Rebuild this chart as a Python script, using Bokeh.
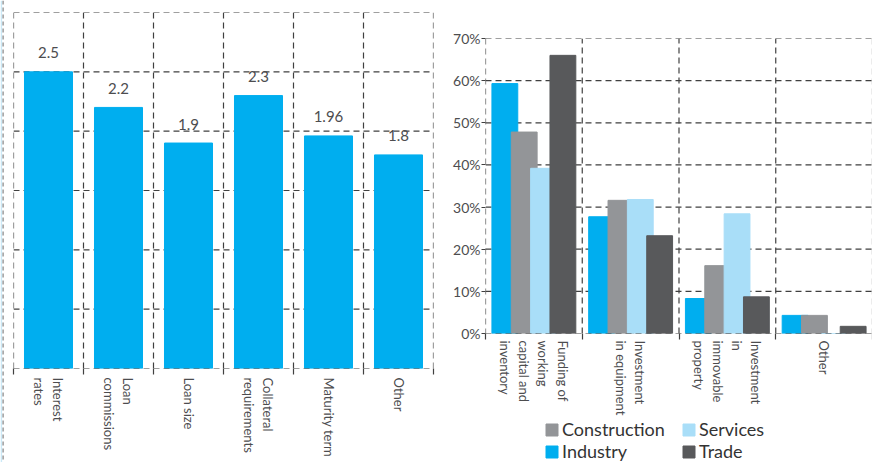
import math
from bokeh.plotting import figure
from bokeh.layouts import row, column
from bokeh.models import (ColumnDataSource, FixedTicker, Legend, LegendItem,
                          LabelSet, Span, BoxAnnotation)
from bokeh.core.properties import value
from bokeh.embed import file_html
from bokeh.resources import INLINE

# ---------------- data ----------------
left_categories = ["Interest\nrates", "Loan\ncommissions", "Loan size",
                   "Collateral\nrequirements", "Maturity term", "Other"]
left_values = [2.5, 2.2, 1.9, 2.3, 1.96, 1.8]
left_value_labels = ["2.5", "2.2", "1.9", "2.3", "1.96", "1.8"]
left_grid_values = [0, 0.5, 1, 1.5, 2, 2.5, 3]

right_categories = ["Funding of\nworking\ncapital and\ninventory",
                    "Investment\nin equipment",
                    "Investment\nin\nimmovable\nproperty",
                    "Other"]
industry = [59.3, 27.7, 8.3, 4.3]
construction = [47.8, 31.6, 16.1, 4.3]
services = [39.2, 31.8, 28.4, 0.0]
trade = [66.0, 23.2, 8.7, 1.7]
y_ticks_pct = [0, 10, 20, 30, 40, 50, 60, 70]

FONT = "Lato"
GRID_COLOR = "#404040"
DASH = "6 4"
BLUE = "#00AEEF"
GRAY = "#939598"
LIGHT = "#A9DEF8"
DARK = "#58595B"
TEXT = "#4d4d4f"


def dashed_grid(p, xs, ys):
    """Inner grid lines as glyph segments (drawn before bars), edges as spans."""
    p.xgrid.visible = False
    p.ygrid.visible = False
    x_in = xs[1:-1]
    y_in = ys[1:-1]
    p.segment(x0=x_in, x1=x_in, y0=[ys[0]] * len(x_in), y1=[ys[-1]] * len(x_in),
              line_color=GRID_COLOR, line_dash=DASH, line_width=1.2)
    p.segment(x0=[xs[0]] * len(y_in), x1=[xs[-1]] * len(y_in), y0=y_in, y1=y_in,
              line_color=GRID_COLOR, line_dash=DASH, line_width=1.2)
    for xv in (xs[0], xs[-1]):
        p.add_layout(Span(location=xv, dimension="height", line_color=GRID_COLOR,
                          line_dash=DASH, line_width=1.2, level="underlay"))
    p.add_layout(Span(location=ys[-1], dimension="width", line_color=GRID_COLOR,
                      line_dash=DASH, line_width=1.2, level="underlay"))
    # baseline drawn on top of the bars
    p.add_layout(Span(location=ys[0], dimension="width", line_color=GRID_COLOR,
                      line_dash=DASH, line_width=1.2))


def style_xaxis(p, centers, bounds, labels, size, standoff):
    p.xaxis.ticker = FixedTicker(ticks=centers, minor_ticks=bounds)
    p.xaxis.major_label_overrides = {x: c for x, c in zip(centers, labels)}
    p.xaxis.major_label_orientation = -math.pi / 2
    p.xaxis.major_label_text_font = FONT
    p.xaxis.major_label_text_font_size = size
    p.xaxis.major_label_text_color = TEXT
    p.xaxis.axis_line_color = None
    p.xaxis.major_tick_line_color = None
    p.xaxis.minor_tick_line_color = GRID_COLOR
    p.xaxis.minor_tick_line_width = 1.2
    p.xaxis.minor_tick_out = 6
    p.xaxis.minor_tick_in = 0
    p.xaxis.major_label_standoff = standoff


# ---------------- page edge strip ----------------
p0 = figure(width=5, height=462, output_backend="svg", toolbar_location=None,
            min_border=0, x_range=(0, 5), y_range=(0, 1))
p0.outline_line_color = None
p0.axis.visible = False
p0.grid.visible = False
p0.add_layout(BoxAnnotation(left=0, right=1.6, fill_color="#cbe9f7",
                            fill_alpha=1, line_color=None))
p0.add_layout(Span(location=2.6, dimension="height", line_color="#8c8c8c",
                   line_dash="4 3", line_width=1.3))

# ---------------- left chart ----------------
n_left = len(left_categories)
lx = [i + 0.5 for i in range(n_left)]
lbounds = list(range(n_left + 1))
lsrc = ColumnDataSource(dict(x=lx, top=left_values, label=left_value_labels))

p1 = figure(width=435, height=462, x_range=(0, n_left),
            y_range=(left_grid_values[0], left_grid_values[-1]),
            output_backend="svg", toolbar_location=None,
            min_border_left=8, min_border_right=7, min_border_top=12,
            min_border_bottom=94)
p1.outline_line_color = None
dashed_grid(p1, lbounds, left_grid_values)
p1.vbar(x="x", top="top", width=0.686, source=lsrc, color=BLUE)
p1.add_layout(LabelSet(x="x", y="top", text="label", source=lsrc,
                       text_align="center", text_baseline="middle",
                       y_offset=19, text_font=value(FONT), text_font_size="15px",
                       text_color=TEXT))
style_xaxis(p1, lx, lbounds, left_categories, "13px", 3)
p1.yaxis.visible = False

# ---------------- right chart ----------------
n_right = len(right_categories)
rx = [i + 0.5 for i in range(n_right)]
rbounds = list(range(n_right + 1))
series = [("Industry", industry, BLUE, -0.3),
          ("Construction", construction, GRAY, -0.1),
          ("Services", services, LIGHT, 0.1),
          ("Trade", trade, DARK, 0.3)]

p2 = figure(width=432, height=418, x_range=(0, n_right),
            y_range=(y_ticks_pct[0], y_ticks_pct[-1]),
            output_backend="svg", toolbar_location=None,
            min_border_left=45, min_border_right=0, min_border_top=38,
            min_border_bottom=84)
p2.outline_line_color = None
dashed_grid(p2, rbounds, y_ticks_pct)
for name, vals, col, off in series:
    src = ColumnDataSource(dict(x=[x + off for x in rx], top=vals))
    p2.vbar(x="x", top="top", width=0.267, source=src, color=col)
style_xaxis(p2, rx, rbounds, right_categories, "13px", 1)

p2.yaxis.ticker = FixedTicker(ticks=y_ticks_pct)
p2.yaxis.major_label_overrides = {t: f"{t}%" for t in y_ticks_pct}
p2.yaxis.major_label_text_font = FONT
p2.yaxis.major_label_text_font_size = "14px"
p2.yaxis.major_label_text_color = TEXT
p2.yaxis.axis_line_color = None
p2.yaxis.major_tick_line_color = GRID_COLOR
p2.yaxis.major_tick_out = 4
p2.yaxis.major_tick_in = 0
p2.yaxis.minor_tick_line_color = None
p2.yaxis.major_label_standoff = 1

# ---------------- legend strip (below the right chart) ----------------
# the strip's y range lies above the values, so its bars stay hidden and only
# feed the legend swatches
p3 = figure(width=432, height=44, output_backend="svg", toolbar_location=None,
            min_border=0, x_range=(0, n_right), y_range=(1000, 1001))
p3.outline_line_color = None
p3.axis.visible = False
p3.grid.visible = False
leg_r = {}
for name, vals, col, off in series:
    leg_r[name] = p3.vbar(x=[x + off for x in rx], top=vals, width=0.267,
                          color=col)


def make_legend(names, loc):
    return Legend(items=[LegendItem(label=n, renderers=[leg_r[n]]) for n in names],
                  location=loc, orientation="vertical",
                  label_text_font=FONT, label_text_font_size="18px",
                  label_text_color="#333333", label_height=18,
                  glyph_width=15, glyph_height=15, label_standoff=3,
                  spacing=0, padding=0, margin=0,
                  background_fill_alpha=0, border_line_color=None)


p3.add_layout(make_legend(["Construction", "Industry"], (104, 0)), "center")
p3.add_layout(make_legend(["Services", "Trade"], (241, 0)), "center")

layout = row(column(p0), column(p1), column(column(p2), column(p3)), spacing=0)
open("out.html", "w").write(file_html(layout, INLINE))
